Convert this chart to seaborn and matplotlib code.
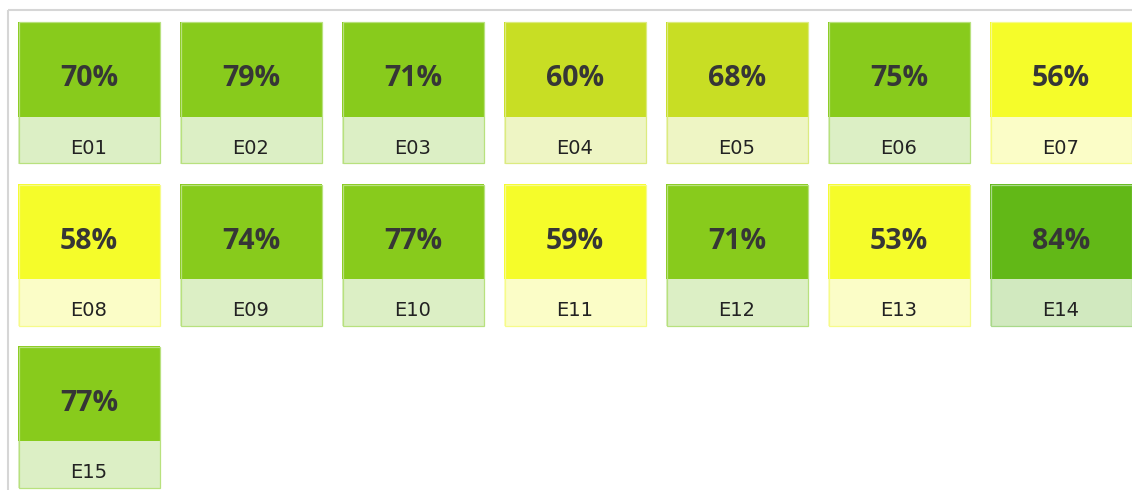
import matplotlib
matplotlib.use("Agg")
import matplotlib.pyplot as plt
import seaborn as sns
from matplotlib.patches import Rectangle

# ---- data ----
labels = ["E01", "E02", "E03", "E04", "E05", "E06", "E07",
          "E08", "E09", "E10", "E11", "E12", "E13", "E14", "E15"]
values = [70, 79, 71, 60, 68, 75, 56,
          58, 74, 77, 59, 71, 53, 84, 77]

# colour bands: (lower bound, tile colour, label colour, edge colour)
bands = [
    (80, "#62b817", "#d1e9bf", "#a9d98a"),
    (70, "#88cb1c", "#dcefc5", "#b8e17e"),
    (60, "#c8de24", "#eef5c4", "#dceb80"),
    (0,  "#f5fc2a", "#fbfdc7", "#f6fb8a"),
]

sns.set_theme(style="white")
plt.rcParams["font.family"] = ["Open Sans", "DejaVu Sans"]

W, H = 1132, 490
fig = plt.figure(figsize=(W / 100, H / 100), dpi=100)
ax = fig.add_axes([0, 0, 1, 1])
ax.set_xlim(0, W)
ax.set_ylim(H, 0)
ax.axis("off")

# outer frame
ax.plot([8, W], [10, 10], color="#d6d6d6", lw=1.5, solid_capstyle="butt")
ax.plot([8, 8], [10, H], color="#d6d6d6", lw=1.5, solid_capstyle="butt")

ncols = 7
x0, y0 = 18, 22
pitch_x, pitch_y = 162, 162
tw, top_h, bot_h = 142, 95, 47


def band(v):
    for lo, c, lc, ec in bands:
        if v >= lo:
            return c, lc, ec


for i, (lab, v) in enumerate(zip(labels, values)):
    r, c = divmod(i, ncols)
    x = x0 + c * pitch_x
    y = y0 + r * pitch_y
    col, lcol, ecol = band(v)
    ax.add_patch(Rectangle((x, y), tw, top_h, facecolor=col, edgecolor="none"))
    ax.add_patch(Rectangle((x, y + top_h), tw, bot_h, facecolor=lcol, edgecolor="none"))
    ax.add_patch(Rectangle((x + 0.5, y + 0.5), tw - 1, top_h + bot_h - 1,
                           facecolor="none", edgecolor=ecol, lw=0.9))
    ax.text(x + tw / 2, y + 57, f"{v}%", ha="center", va="center",
            fontsize=20.5, fontweight="bold", color="#363636")
    ax.text(x + tw / 2, y + top_h + 31, lab, ha="center", va="center",
            fontsize=14, color="#222222", family=["DejaVu Sans"])

fig.savefig("out.png", dpi=100)
